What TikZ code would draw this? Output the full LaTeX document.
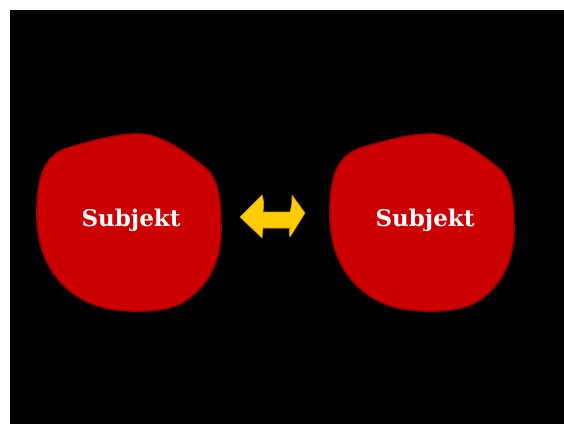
\documentclass[tikz,border=0pt]{standalone}
\usepackage{fontspec}
\setmainfont{DejaVu Serif}
\usepackage{tikz}
\usetikzlibrary{positioning}
\usepackage{xcolor}
\definecolor{stagebg}{RGB}{0,0,0}
\definecolor{blobred}{RGB}{204,0,0}
\definecolor{blobedge}{RGB}{150,0,0}
\definecolor{arrowyellow}{RGB}{255,204,0}
\definecolor{arrowedge}{RGB}{205,155,0}

\begin{document}
\begin{tikzpicture}[
    x=1pt, y=-1pt,
    blob/.style={fill=blobred, draw=blobedge, line width=1.6pt},
    blobtext/.style={font=\fontsize{23}{23}\selectfont\bfseries, text=white, inner sep=0pt},
    swaparrow/.style={fill=arrowyellow, draw=arrowedge, line width=0.6pt, line join=round}
]

\useasboundingbox (0,0) rectangle (564,424);
\fill[white] (0,0) rectangle (564,424);
\fill[stagebg] (10,10) rectangle (564,424);

% the two subject blobs
\foreach \sx/\name in {0/left, 293/right} {
    \begin{scope}[xshift=\sx]
        \draw[blob] (37,220)
            .. controls (36,180) and (42,155) .. (70,147)
            .. controls (95,140) and (120,133) .. (142,134)
            .. controls (165,136) and (190,155) .. (209,171)
            .. controls (220,185) and (221,205) .. (221,230)
            .. controls (221,265) and (205,290) .. (180,304)
            .. controls (160,313) and (130,312) .. (110,309)
            .. controls (75,303) and (39,275) .. (37,220) -- cycle;
    \end{scope}
}

\node[blobtext] (subjleft) at (131,220) {Subjekt};
\node[blobtext] (subjright) at (425,220) {Subjekt};

% double arrow between them
\draw[swaparrow] (240,217) -- (262,195) .. controls (264,202) .. (263,212)
    -- (290,212) .. controls (292,204) .. (292,195) -- (305,213)
    -- (290,237) .. controls (289,232) .. (290,228)
    -- (263,228) .. controls (262,233) .. (262,238) -- cycle;

\end{tikzpicture}
\end{document}
